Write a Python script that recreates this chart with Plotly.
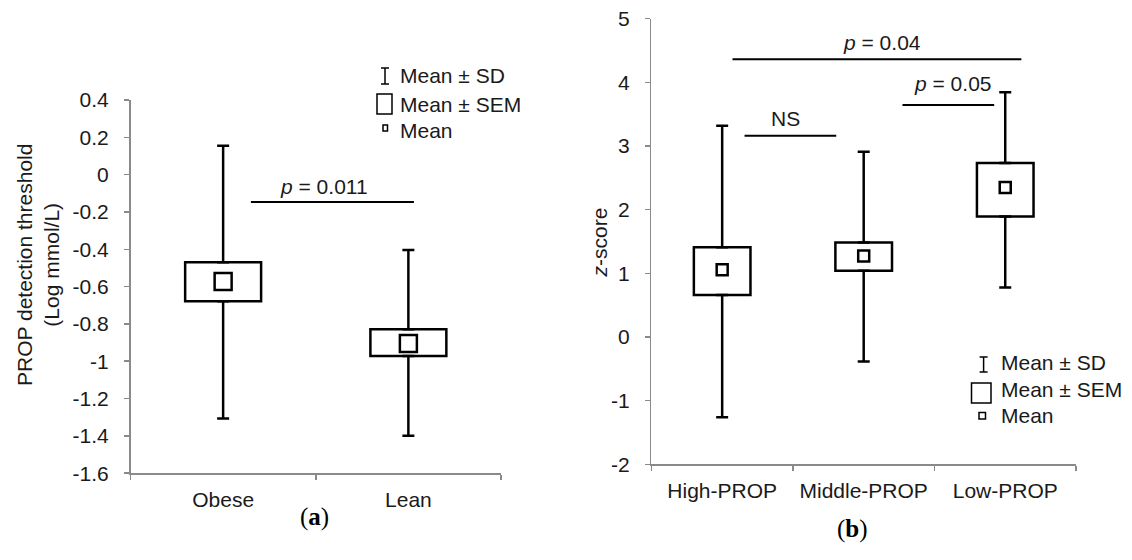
import plotly.graph_objects as go
from plotly.subplots import make_subplots

W, H = 1132, 560

# ---------------- data: panel (a) ----------------
cats_a = ["Obese", "Lean"]
mean_a = [-0.573, -0.905]
sem_lo_a = [-0.678, -0.972]
sem_hi_a = [-0.469, -0.829]
sd_lo_a = [-1.307, -1.399]
sd_hi_a = [0.155, -0.404]
yticks_a = [0.4, 0.2, 0, -0.2, -0.4, -0.6, -0.8, -1, -1.2, -1.4, -1.6]
yticktext_a = ["0.4", "0.2", "0", "-0.2", "-0.4", "-0.6", "-0.8", "-1", "-1.2", "-1.4", "-1.6"]
sig_a_label = ["<i>p</i> = 0.011"]
sig_a_x0 = [0.15]
sig_a_x1 = [1.03]
sig_a_y = [-0.146]
sig_a_tx = [0.547]

# ---------------- data: panel (b) ----------------
cats_b = ["High-PROP", "Middle-PROP", "Low-PROP"]
mean_b = [1.057, 1.27, 2.347]
sem_lo_b = [0.659, 1.04, 1.892]
sem_hi_b = [1.41, 1.483, 2.734]
sd_lo_b = [-1.26, -0.385, 0.776]
sd_hi_b = [3.317, 2.908, 3.844]
yticks_b = [5, 4, 3, 2, 1, 0, -1, -2]
yticktext_b = ["5", "4", "3", "2", "1", "0", "-1", "-2"]
sig_b_label = ["<i>p</i> = 0.04", "<i>p</i> = 0.05", "NS"]
sig_b_x0 = [0.073, 1.274, 0.158]
sig_b_x1 = [2.114, 1.922, 0.806]
sig_b_y = [4.36, 3.642, 3.16]
sig_b_tx = [1.127, 1.634, 0.447]

legend_labels = ["Mean \u00b1 SD", "Mean \u00b1 SEM", "Mean"]

FONT = "Liberation Sans, Arial, sans-serif"
FS = 21
TXT = "#1a1a1a"
AX = "#8a8a8a"


def px(x):
    return x / W


def py(y):
    return 1 - y / H


fig = make_subplots(rows=1, cols=2)


def add_panel(col, cats, mean, slo, shi, dlo, dhi, bw, msize):
    fig.add_trace(go.Bar(
        x=cats, y=[h - l for h, l in zip(shi, slo)], base=slo, width=bw,
        marker=dict(color="white", line=dict(color="black", width=2.5)),
        showlegend=False, hoverinfo="skip"), row=1, col=col)
    fig.add_trace(go.Scatter(
        x=cats, y=shi, mode="markers",
        marker=dict(size=1, color="rgba(0,0,0,0)"),
        error_y=dict(type="data", symmetric=False,
                     array=[d - h for d, h in zip(dhi, shi)],
                     arrayminus=[0] * len(cats),
                     color="black", thickness=2.5, width=6),
        showlegend=False, hoverinfo="skip"), row=1, col=col)
    fig.add_trace(go.Scatter(
        x=cats, y=slo, mode="markers",
        marker=dict(size=1, color="rgba(0,0,0,0)"),
        error_y=dict(type="data", symmetric=False,
                     array=[0] * len(cats),
                     arrayminus=[l - d for l, d in zip(slo, dlo)],
                     color="black", thickness=2.5, width=6),
        showlegend=False, hoverinfo="skip"), row=1, col=col)
    fig.add_trace(go.Scatter(
        x=cats, y=mean, mode="markers",
        marker=dict(symbol="square-open", size=msize, color="black",
                    line=dict(width=2.5, color="black")),
        showlegend=False, hoverinfo="skip"), row=1, col=col)


add_panel(1, cats_a, mean_a, sem_lo_a, sem_hi_a, sd_lo_a, sd_hi_a, 0.41, 17)
add_panel(2, cats_b, mean_b, sem_lo_b, sem_hi_b, sd_lo_b, sd_hi_b, 0.40, 11)

axis_common = dict(showline=True, linecolor=AX, linewidth=1.5, ticks="outside",
                   tickcolor=AX, tickwidth=1.5, ticklen=5, showgrid=False,
                   zeroline=False, automargin=False,
                   tickfont=dict(family=FONT, size=FS, color=TXT))

fig.update_xaxes(**axis_common)
fig.update_yaxes(**axis_common)

fig.update_layout(
    xaxis=dict(domain=[px(130.5), px(501)], type="category", range=[-0.5, 1.5],
               tickson="boundaries", ticklabelstandoff=7),
    yaxis=dict(domain=[py(473.2), py(100)], range=[-1.6, 0.4],
               tickmode="array", tickvals=yticks_a, ticktext=yticktext_a,
               ticklabelstandoff=11),
    xaxis2=dict(domain=[px(651.4), px(1076)], type="category", range=[-0.5, 2.5],
                tickson="boundaries", ticklabelstandoff=7),
    yaxis2=dict(domain=[py(464.3), py(18.6)], range=[-2, 5],
                tickmode="array", tickvals=yticks_b, ticktext=yticktext_b,
                ticklabelstandoff=11),
)

shapes = []
annotations = []

# significance bars
for lab, x0, x1, y, tx in zip(sig_a_label, sig_a_x0, sig_a_x1, sig_a_y, sig_a_tx):
    shapes.append(dict(type="line", xref="x", yref="y", x0=x0, x1=x1, y0=y, y1=y,
                       line=dict(color="black", width=2)))
    annotations.append(dict(xref="x", yref="y", x=tx, y=y, yshift=15, text=lab,
                            showarrow=False, font=dict(family=FONT, size=FS, color=TXT)))
shift_b = [17, 22, 17]
for lab, x0, x1, y, tx, ys in zip(sig_b_label, sig_b_x0, sig_b_x1, sig_b_y, sig_b_tx, shift_b):
    shapes.append(dict(type="line", xref="x2", yref="y2", x0=x0, x1=x1, y0=y, y1=y,
                       line=dict(color="black", width=2)))
    annotations.append(dict(xref="x2", yref="y2", x=tx, y=y, yshift=ys, text=lab,
                            showarrow=False, font=dict(family=FONT, size=FS, color=TXT)))


# legends (drawn manually)
def legend(ix, iy0, iy1, rect, small, tx, rows):
    lw = 1.5
    shapes.append(dict(type="line", xref="paper", yref="paper", x0=px(ix), x1=px(ix),
                       y0=py(iy0), y1=py(iy1), line=dict(color="black", width=lw)))
    for yy in (iy0, iy1):
        shapes.append(dict(type="line", xref="paper", yref="paper", x0=px(ix - 4),
                           x1=px(ix + 4), y0=py(yy), y1=py(yy),
                           line=dict(color="black", width=lw)))
    shapes.append(dict(type="rect", xref="paper", yref="paper", x0=px(rect[0]),
                       x1=px(rect[1]), y0=py(rect[2]), y1=py(rect[3]),
                       line=dict(color="black", width=lw)))
    shapes.append(dict(type="rect", xref="paper", yref="paper", x0=px(small[0]),
                       x1=px(small[1]), y0=py(small[2]), y1=py(small[3]),
                       line=dict(color="black", width=lw)))
    for lab, yy in zip(legend_labels, rows):
        annotations.append(dict(xref="paper", yref="paper", x=px(tx), y=py(yy),
                                xanchor="left", yanchor="middle", text=lab,
                                showarrow=False,
                                font=dict(family=FONT, size=FS, color=TXT)))


legend(385, 68, 84, (377, 392, 94, 114), (383, 387.5, 125, 131), 398, (75.4, 104.3, 130.4))
legend(983.6, 357, 372, (971.5, 991, 383, 403), (979, 985.5, 412.5, 419), 998.5,
       (362.5, 389, 415.5))

# axis titles
annotations.append(dict(xref="paper", yref="paper", x=px(38), y=py(265),
                        text="PROP detection threshold<br>(Log mmol/L)", textangle=-90,
                        showarrow=False, xanchor="center", yanchor="middle",
                        font=dict(family=FONT, size=FS, color=TXT)))
annotations.append(dict(xref="paper", yref="paper", x=px(598.5), y=py(243),
                        text="<i>z</i>-score", textangle=-90,
                        showarrow=False, xanchor="center", yanchor="middle",
                        font=dict(family=FONT, size=FS, color=TXT)))

# panel labels
annotations.append(dict(xref="paper", yref="paper", x=px(297.5), y=py(533),
                        text="(<b>a</b>)", showarrow=False,
                        font=dict(family="Liberation Serif, Times New Roman, serif",
                                  size=25, color="black")))
annotations.append(dict(xref="paper", yref="paper", x=px(870), y=py(545),
                        text="(<b>b</b>)", showarrow=False,
                        font=dict(family="Liberation Serif, Times New Roman, serif",
                                  size=25, color="black")))

fig.update_layout(
    width=W, height=H, margin=dict(l=0, r=0, t=0, b=0),
    paper_bgcolor="white", plot_bgcolor="white",
    shapes=shapes, annotations=annotations, showlegend=False,
    bargap=0,
)

fig.write_html("out.html", config={"displayModeBar": False, "staticPlot": True},
               post_script="document.body.style.margin='0px';")
